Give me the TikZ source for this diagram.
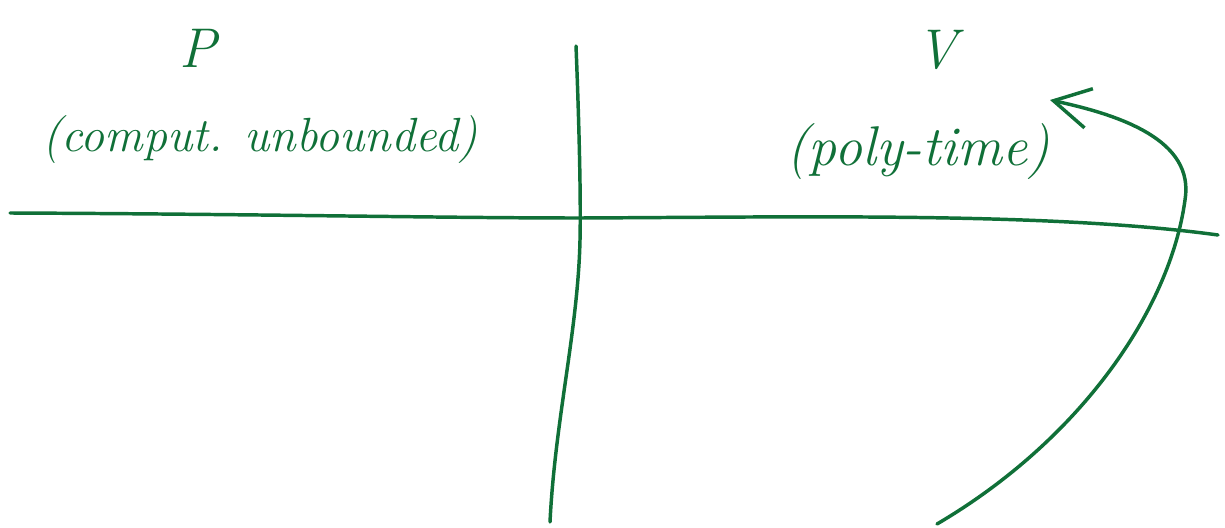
\documentclass[tikz,border=0pt]{standalone}
\usetikzlibrary{arrows.meta}
\definecolor{ink}{RGB}{16,112,56}
\begin{document}
\begin{tikzpicture}[x=0.75pt,y=-0.75pt,
  pen/.style={draw=ink,line width=2.6pt,line cap=round,line join=round},
  hand/.style={text=ink,inner sep=0pt}]
\useasboundingbox (0,0) rectangle (1225,528);
% labels
\node[hand,font=\fontsize{42}{50}\selectfont\itshape] (P) at (198,48) {P};
\node[hand,font=\fontsize{36}{43}\selectfont\itshape] (Plab) at (260,140) {(comput. unbounded)};
\node[hand,font=\fontsize{42}{50}\selectfont\itshape] (V) at (937,50) {V};
\node[hand,font=\fontsize{42}{50}\selectfont\itshape] (Vlab) at (918,152) {(poly-time)};
% axes
\coordinate (hL) at (10,213);
\coordinate (hR) at (1218,235);
\coordinate (vT) at (576,46);
\coordinate (vB) at (550,522);
\draw[pen] (hL) .. controls (250,214) and (450,218) .. (580,218)
  .. controls (800,217) and (1050,212) .. (hR);
\draw[pen] (vT) .. controls (579,120) and (581,200) .. (580,240)
  .. controls (578,330) and (555,420) .. (vB);
% arrow
\coordinate (aS) at (937,524);
\coordinate (aT) at (1050,100);
\draw[pen,-{Straight Barb[length=27pt,width=30pt,line width=2.6pt]}]
  (aS) .. controls (1080,440) and (1170,310) .. (1185,200)
  .. controls (1195,140) and (1120,115) .. (aT);
\end{tikzpicture}
\end{document}
